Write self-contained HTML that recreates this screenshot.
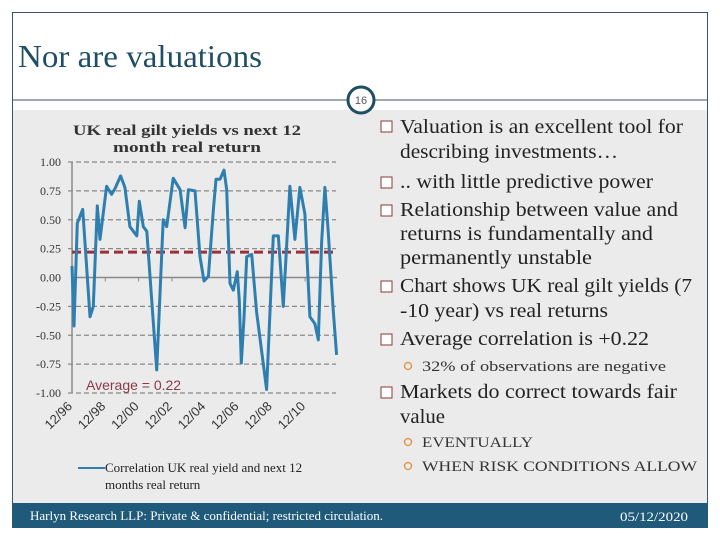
<!DOCTYPE html>
<html><head><meta charset="utf-8"><style>
body{margin:0;background:#fff;width:720px;height:540px;overflow:hidden}
svg{display:block}
.s{font-family:"Liberation Serif",serif}
.b{font-size:20px;fill:#222}
.c{font-size:15px;fill:#333}
</style></head><body>
<svg width="720" height="540" xmlns="http://www.w3.org/2000/svg">
<rect x="0" y="0" width="720" height="540" fill="#fff"/>
<rect x="12" y="110" width="696" height="393" fill="#ebebeb"/>
<rect x="12.5" y="12.5" width="695" height="515" fill="none" stroke="#3a5566" stroke-width="1"/>
<text x="18" y="67" class="s" font-size="32" fill="#1f4e64" textLength="244" lengthAdjust="spacingAndGlyphs">Nor are valuations</text>
<line x1="12" y1="100" x2="708" y2="100" stroke="#3a5566" stroke-width="1"/>
<g>
<circle cx="361" cy="100" r="13" fill="#fff" stroke="#1f4e64" stroke-width="3"/>
<text x="361" y="104" text-anchor="middle" font-family="Liberation Sans,sans-serif" font-size="11" fill="#555">16</text>
</g>
<g id="chart"></g>
<g class="s">
<g fill="#fff" stroke="#8b3a3a" stroke-width="1">
<rect x="381" y="121" width="11" height="11"/><rect x="381" y="177" width="11" height="11"/><rect x="381" y="205" width="11" height="11"/><rect x="381" y="281" width="11" height="11"/><rect x="381" y="334" width="11" height="11"/><rect x="381" y="387" width="11" height="11"/>
</g>
<g fill="none" stroke="#e09a50" stroke-width="1.5">
<circle cx="408" cy="366" r="3.5"/><circle cx="408" cy="442" r="3.5"/><circle cx="408" cy="466" r="3.5"/>
</g>
<text x="400" y="133" class="b" textLength="283" lengthAdjust="spacingAndGlyphs">Valuation is an excellent tool for</text>
<text x="400" y="158" class="b" textLength="218" lengthAdjust="spacingAndGlyphs">describing investments…</text>
<text x="400" y="188" class="b" textLength="253" lengthAdjust="spacingAndGlyphs">.. with little predictive power</text>
<text x="400" y="216" class="b" textLength="278" lengthAdjust="spacingAndGlyphs">Relationship between value and</text>
<text x="400" y="240" class="b" textLength="253" lengthAdjust="spacingAndGlyphs">returns is fundamentally and</text>
<text x="400" y="264" class="b" textLength="192" lengthAdjust="spacingAndGlyphs">permanently unstable</text>
<text x="400" y="292" class="b" textLength="292" lengthAdjust="spacingAndGlyphs">Chart shows UK real gilt yields (7</text>
<text x="400" y="317" class="b" textLength="208" lengthAdjust="spacingAndGlyphs">-10 year) vs real returns</text>
<text x="400" y="345" class="b" textLength="249" lengthAdjust="spacingAndGlyphs">Average correlation is +0.22</text>
<text x="422" y="371" class="c" textLength="244" lengthAdjust="spacingAndGlyphs">32% of observations are negative</text>
<text x="400" y="398" class="b" textLength="277" lengthAdjust="spacingAndGlyphs">Markets do correct towards fair</text>
<text x="400" y="423" class="b" textLength="45" lengthAdjust="spacingAndGlyphs">value</text>
<text x="422" y="447" class="c" textLength="111" lengthAdjust="spacingAndGlyphs">EVENTUALLY</text>
<text x="422" y="471" class="c" textLength="275" lengthAdjust="spacingAndGlyphs">WHEN RISK CONDITIONS ALLOW</text>
</g>
<rect x="12" y="503" width="696" height="25" fill="#1f5a7a"/>
<text x="30" y="520" class="s" font-size="13" fill="#fff">Harlyn Research LLP: Private &amp; confidential; restricted circulation.</text>
<text x="620" y="521" class="s" font-size="13" fill="#fff" textLength="68" lengthAdjust="spacingAndGlyphs">05/12/2020</text>
</svg>
<script>
var periods=[0,0.12,0.32,0.64,0.78,1.08,1.28,1.52,1.68,2.08,2.38,2.58,2.92,3.18,3.48,3.89,4.04,4.28,4.49,5.09,5.48,5.69,6.08,6.49,6.79,6.99,7.39,7.69,7.93,8.19,8.49,8.65,8.89,9.13,9.29,9.49,9.69,9.93,10.05,10.17,10.33,10.49,10.79,11.09,11.69,12.09,12.39,12.69,13.09,13.39,13.69,13.99,14.29,14.59,14.79,14.99,15.19,15.39,15.69,15.89];
var correlation=[0.10,-0.42,0.47,0.59,0.30,-0.34,-0.25,0.62,0.33,0.79,0.72,0.77,0.88,0.78,0.44,0.36,0.66,0.44,0.40,-0.80,0.50,0.44,0.86,0.76,0.43,0.76,0.75,0.18,-0.03,0.01,0.59,0.85,0.85,0.93,0.76,-0.05,-0.11,0.05,-0.20,-0.74,-0.35,0.18,0.20,-0.30,-0.97,0.36,0.36,-0.25,0.79,0.33,0.78,0.55,-0.34,-0.40,-0.54,0.30,0.78,0.40,-0.28,-0.67];
var average=[0.22];
var yTicks=[1,0.75,0.5,0.25,0,-0.25,-0.5,-0.75,-1];
var yTickLabels=["1.00","0.75","0.50","0.25","0.00","-0.25","-0.50","-0.75","-1.00"];
var xTickPeriods=[0,2,4,6,8,10,12,14];
var xTickLabels=["12/96","12/98","12/00","12/02","12/04","12/06","12/08","12/10"];
var NS="http://www.w3.org/2000/svg";
var g=document.getElementById("chart");
function X(p){return 72+p*16.65;}
function Y(v){return 277.5-v*115.5;}
function mk(t,a,txt){var e=document.createElementNS(NS,t);for(var k in a)e.setAttribute(k,a[k]);if(txt!=null)e.textContent=txt;g.appendChild(e);return e;}
var t1=mk("text",{x:187,y:135,"text-anchor":"middle","font-family":"Liberation Serif,serif","font-size":15,"font-weight":"bold",fill:"#333",textLength:228,lengthAdjust:"spacingAndGlyphs"},"UK real gilt yields vs next 12");


mk("text",{x:187,y:152,"text-anchor":"middle","font-family":"Liberation Serif,serif","font-size":15,"font-weight":"bold",fill:"#333",textLength:148,lengthAdjust:"spacingAndGlyphs"},"month real return");
yTicks.forEach(function(v,i){
  var y=Y(v);
  if(v!==0){var l=mk("line",{x1:68,x2:336,y1:y,y2:y,stroke:"#8a8a8a","stroke-width":1.3,"stroke-dasharray":"5,3"});
  
  }
  var t=mk("text",{x:61,y:y+4,"text-anchor":"end","font-family":"Liberation Serif,serif","font-size":12,fill:"#333"},yTickLabels[i]);
  
  
});
var ax=mk("line",{x1:72,x2:72,y1:Y(1),y2:Y(-1),stroke:"#8a8a8a","stroke-width":1.5});


var zx=mk("line",{x1:72,x2:337,y1:Y(0),y2:Y(0),stroke:"#8a8a8a","stroke-width":1.5});


xTickPeriods.forEach(function(p,i){
  var x=X(p);
  if(i>0){var tk=mk("line",{x1:x,x2:x,y1:Y(0),y2:Y(0)+4,stroke:"#8a8a8a","stroke-width":1});
  
  }
  var t=mk("text",{x:x+1,y:407,"text-anchor":"end","font-family":"Liberation Sans,sans-serif","font-size":13,fill:"#333",transform:"rotate(-45 "+(x+1)+" 407)"},xTickLabels[i]);
  
  
});
var avg=mk("line",{x1:72,x2:336,y1:Y(average[0]),y2:Y(average[0]),stroke:"#9b2f3a","stroke-width":3,"stroke-dasharray":"9,5"});


var d=periods.map(function(p,i){return (i?"L":"M")+X(p).toFixed(1)+","+Y(correlation[i]).toFixed(1);}).join(" ");
var ln=mk("path",{d:d,fill:"none",stroke:"#2e7fb0","stroke-width":3,"stroke-linejoin":"round"});


var at=mk("text",{x:86,y:390,"font-family":"Liberation Sans,sans-serif","font-size":14,fill:"#8b3a4a"},"Average = "+average[0].toFixed(2));


var lg=mk("line",{x1:78,x2:105,y1:468,y2:468,stroke:"#2e7fb0","stroke-width":2});


var lt=mk("text",{x:105,y:472,"font-family":"Liberation Serif,serif","font-size":13,fill:"#222"},"Correlation UK real yield and next 12");


mk("text",{x:105,y:489,"font-family":"Liberation Serif,serif","font-size":13,fill:"#222"},"months real return");
</script>
</body></html>
